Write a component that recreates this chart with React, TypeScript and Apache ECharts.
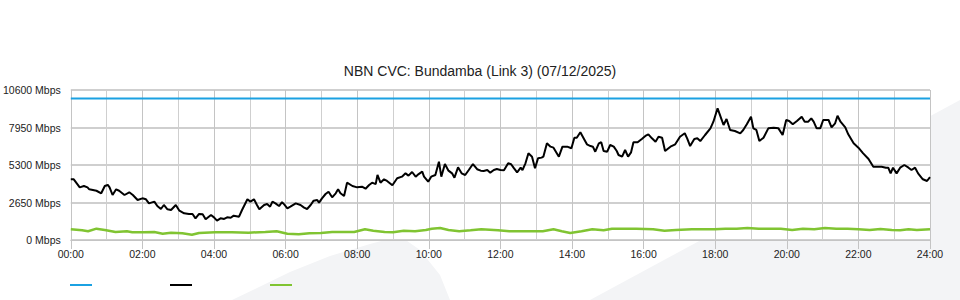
import React, { useEffect, useRef } from 'react';
import * as echarts from 'echarts';

const chartTitle = 'NBN CVC: Bundamba (Link 3) (07/12/2025)';
const yMax = 10600;
const yStep = 2650;
const xMaxMinutes = 1440;
const xLabelStep = 120;

const capacityTimes = [0, 1440];
const capacityValues = [10000, 10000];

const trafficTimes = [
  0, 5, 15, 22, 28, 31, 43, 51, 57, 62, 65, 70, 76, 81, 90, 98, 104, 112, 120, 126,
  131, 140, 145, 151, 156, 162, 168, 176, 182, 190, 198, 204, 209, 215, 221, 226, 235, 240, 245, 251,
  257, 262, 268, 273, 282, 287, 296, 301, 307, 312, 316, 324, 329, 334, 338, 343, 349, 354, 358, 363,
  368, 377, 385, 391, 396, 402, 407, 413, 416, 421, 427, 432, 438, 444, 448, 452, 458, 463, 472, 480,
  488, 494, 500, 505, 511, 514, 519, 525, 530, 539, 547, 555, 561, 566, 572, 578, 583, 589, 592, 599,
  604, 611, 617, 621, 627, 633, 639, 643, 649, 655, 661, 667, 674, 681, 687, 692, 698, 703, 709, 714,
  720, 726, 733, 738, 742, 748, 754, 757, 762, 767, 773, 778, 783, 789, 792, 798, 804, 809, 818, 824,
  832, 839, 844, 848, 854, 859, 865, 871, 875, 879, 885, 889, 893, 899, 904, 910, 915, 918, 924, 929,
  934, 939, 943, 950, 957, 963, 968, 974, 980, 985, 991, 996, 1005, 1013, 1021, 1029, 1033, 1038, 1045, 1050,
  1055, 1063, 1072, 1077, 1084, 1090, 1094, 1099, 1105, 1113, 1122, 1127, 1133, 1140, 1144, 1149, 1154, 1161, 1169, 1178,
  1186, 1193, 1199, 1204, 1210, 1217, 1225, 1230, 1236, 1241, 1245, 1250, 1256, 1261, 1270, 1275, 1281, 1285, 1290, 1298,
  1303, 1312, 1320, 1328, 1337, 1345, 1353, 1359, 1366, 1370, 1374, 1378, 1384, 1390, 1397, 1404, 1409, 1415, 1420, 1428,
  1435, 1440,
];
const trafficValues = [
  4290, 4290, 3720, 3815, 3720, 3580, 3480, 3300, 3815, 3890, 3720, 3180, 3580, 3480, 3180, 3370, 3180, 2830, 2945, 2875,
  2590, 2710, 2400, 2190, 2475, 2170, 2120, 2475, 2070, 1885, 1840, 1840, 1530, 1840, 1815, 1460, 1770, 1600, 1365, 1530,
  1485, 1600, 1575, 1720, 1650, 2120, 2875, 2710, 2875, 2475, 2170, 2475, 2545, 2355, 2710, 2590, 2400, 2680, 2500, 2240,
  2355, 2590, 2475, 2285, 2190, 2475, 2780, 2830, 2640, 2945, 3250, 3415, 3015, 3300, 3580, 3300, 3110, 4050, 3815, 3720,
  3770, 3625, 3890, 4050, 3950, 4595, 4050, 4290, 4170, 3865, 4360, 4475, 4710, 4550, 4805, 4475, 4660, 4830, 4475, 4120,
  4475, 4595, 5535, 4475, 5370, 4900, 4710, 4405, 5135, 4710, 4595, 4945, 5370, 5000, 4900, 4880, 4945, 4760, 4945, 5015,
  4945, 4925, 5420, 5350, 5110, 4780, 5110, 4945, 5420, 6125, 5890, 5065, 5770, 5820, 5890, 6830, 6595, 6525, 5890, 6595,
  6595, 6480, 7230, 7230, 7610, 7230, 6760, 6640, 6595, 6240, 6830, 6905, 6290, 6240, 6715, 6595, 6290, 6005, 5890, 6360,
  5890, 6195, 6905, 6905, 7140, 7350, 7470, 7185, 6950, 7300, 7230, 6290, 6595, 6760, 7300, 7540, 7185, 6640, 7140, 7185,
  6995, 7420, 7890, 8360, 9305, 8600, 8125, 8550, 7775, 7700, 7540, 7775, 8175, 8715, 7890, 7775, 6995, 7230, 7890, 7940,
  7890, 7420, 8480, 8410, 8175, 8410, 8715, 8360, 8360, 8600, 8360, 7890, 7890, 8480, 8480, 7960, 8245, 8785, 8360, 7960,
  7470, 6830, 6525, 6125, 5725, 5180, 5180, 5180, 5110, 5110, 4710, 5110, 4710, 5110, 5300, 5110, 4945, 5110, 4710, 4290,
  4170, 4450,
];

const baselineTimes = [
  0, 19, 29, 43, 57, 75, 94, 103, 122, 140, 154, 168, 187, 203, 215, 242, 270, 298, 326, 345,
  363, 382, 400, 419, 438, 456, 475, 493, 507, 526, 540, 558, 577, 595, 605, 619, 633, 651, 670, 688,
  716, 735, 763, 791, 809, 823, 837, 856, 874, 893, 907, 921, 948, 962, 976, 995, 1014, 1041, 1060, 1079,
  1097, 1116, 1134, 1153, 1172, 1190, 1209, 1227, 1246, 1264, 1283, 1302, 1320, 1339, 1357, 1376, 1390, 1404, 1418, 1440,
];
const baselineValues = [
  755, 685, 615, 800, 707, 565, 615, 545, 545, 565, 445, 520, 470, 375, 500, 545, 545, 520, 565, 615,
  445, 400, 470, 495, 565, 565, 565, 755, 660, 565, 545, 660, 615, 707, 800, 850, 707, 615, 685, 755,
  685, 615, 615, 615, 755, 615, 495, 615, 755, 685, 800, 800, 800, 780, 755, 660, 707, 755, 755, 755,
  800, 800, 850, 800, 800, 800, 707, 800, 755, 850, 800, 800, 755, 707, 780, 707, 685, 755, 707, 755,
];

const seriesColors = ['#1ba1e2', '#000000', '#80c432'];
const FONT = '"Liberation Sans", Arial, Helvetica, sans-serif';

function pairs(times: number[], values: number[]) {
  return times.map((t, i) => [t, values[i]]);
}

function hhmm(m: number) {
  const h = Math.floor(m / 60);
  const mm = m % 60;
  return String(h).padStart(2, '0') + ':' + String(mm).padStart(2, '0');
}

export default function App() {
  const ref = useRef<HTMLDivElement>(null);
  useEffect(() => {
    if (!ref.current) return;
    const chart = echarts.init(ref.current, undefined, { renderer: 'svg' });
    const wmColor = '#f3f4f6';
    const option: any = {
      animation: false,
      backgroundColor: '#ffffff',
      textStyle: { fontFamily: FONT },
      title: {
        text: chartTitle,
        left: 'center',
        top: 59,
        textStyle: { fontSize: 14, fontWeight: 'normal', color: '#222', fontFamily: FONT },
      },
      graphic: [
        {
          type: 'polygon',
          z: -10,
          silent: true,
          shape: {
            points: [
              [232, 300], [255, 289], [290, 272], [330, 256], [370, 244], [400, 236],
              [420, 250], [440, 275], [450, 300],
            ],
          },
          style: { fill: wmColor },
        },
        {
          type: 'polygon',
          z: -10,
          silent: true,
          shape: { points: [[590, 300], [960, 100], [960, 300]] },
          style: { fill: wmColor },
        },
        ...seriesColors.map((c, i) => ({
          type: 'line',
          shape: { x1: 70 + i * 100, y1: 285, x2: 92 + i * 100, y2: 285 },
          style: { stroke: c, lineWidth: 2 },
        })),
      ],
      grid: {
        left: 70,
        right: 30,
        top: 90,
        bottom: 60,
        show: true,
        backgroundColor: '#ffffff',
        borderWidth: 0,
      },
      xAxis: {
        type: 'value',
        min: 0,
        max: xMaxMinutes,
        interval: xLabelStep,
        axisLine: { show: true, lineStyle: { color: '#c4c4c4', width: 1 } },
        axisTick: { show: true, length: 9, lineStyle: { color: '#c4c4c4' } },
        axisLabel: {
          formatter: (v: number) => hhmm(v),
          fontSize: 10.5,
          color: '#222',
          margin: 8,
          fontFamily: FONT,
        },
        splitLine: { show: true, lineStyle: { color: '#c4c4c4', width: 1 } },
        minorTick: { show: false, splitNumber: 2 },
        minorSplitLine: { show: true, lineStyle: { color: '#cfcfcf', width: 1 } },
      },
      yAxis: {
        type: 'value',
        min: 0,
        max: yMax,
        interval: yStep,
        axisLine: { show: false },
        axisTick: { show: false },
        axisLabel: {
          formatter: (v: number) => String(v) + ' Mbps',
          fontSize: 10.5,
          color: '#222',
          margin: 10,
          padding: [0, 0, 3, 0],
          fontFamily: FONT,
        },
        splitLine: { show: true, lineStyle: { color: '#bfbfbf', width: 1.5 } },
      },
      series: [
        {
          type: 'line',
          data: pairs(capacityTimes, capacityValues),
          showSymbol: false,
          lineStyle: { color: seriesColors[0], width: 2 },
          itemStyle: { color: seriesColors[0] },
          z: 3,
        },
        {
          type: 'line',
          data: pairs(trafficTimes, trafficValues),
          showSymbol: false,
          lineStyle: { color: seriesColors[1], width: 2 },
          itemStyle: { color: seriesColors[1] },
          z: 4,
        },
        {
          type: 'line',
          data: pairs(baselineTimes, baselineValues),
          showSymbol: false,
          lineStyle: { color: seriesColors[2], width: 2.5 },
          itemStyle: { color: seriesColors[2] },
          z: 3,
        },
      ],
    };
    chart.setOption(option);
    return () => chart.dispose();
  }, []);
  return (
    <div
      ref={ref}
      style={{ position: 'fixed', left: 0, top: 0, width: 960, height: 300 }}
    />
  );
}
